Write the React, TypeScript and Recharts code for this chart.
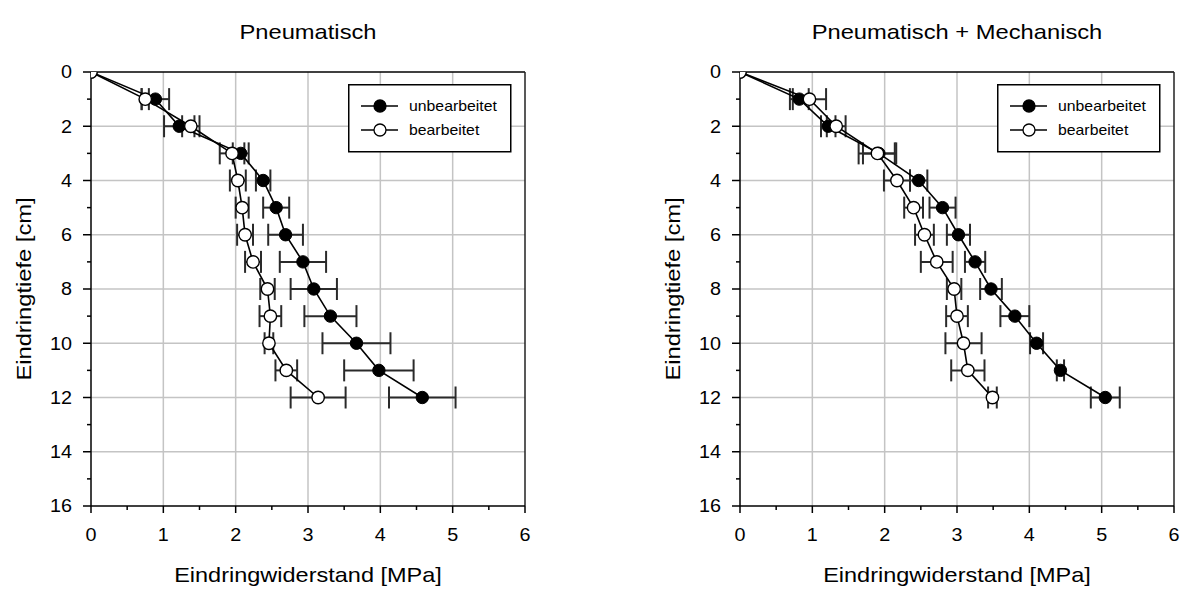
import { ScatterChart, Scatter, XAxis, YAxis, CartesianGrid, ErrorBar, ReferenceLine, Legend } from 'recharts';

// Eindringtiefe [cm]
const depths = [0, 1, 2, 3, 4, 5, 6, 7, 8, 9, 10, 11, 12];

// Pneumatisch
const pneuUnbearbeitet = [0, 0.89, 1.22, 2.07, 2.38, 2.56, 2.69, 2.93, 3.08, 3.31, 3.67, 3.98, 4.58];
const pneuUnbearbeitetErr = [0, 0.19, 0.21, 0.11, 0.1, 0.18, 0.24, 0.32, 0.32, 0.36, 0.47, 0.48, 0.46];
const pneuBearbeitet = [0, 0.75, 1.38, 1.95, 2.03, 2.09, 2.13, 2.24, 2.44, 2.48, 2.46, 2.7, 3.14];
const pneuBearbeitetErr = [0, 0.05, 0.12, 0.17, 0.11, 0.09, 0.11, 0.11, 0.1, 0.15, 0.06, 0.15, 0.38];

// Pneumatisch + Mechanisch
const mechUnbearbeitet = [0, 0.82, 1.22, 1.92, 2.47, 2.8, 3.02, 3.25, 3.47, 3.8, 4.1, 4.43, 5.05];
const mechUnbearbeitetErr = [0, 0.13, 0.1, 0.22, 0.12, 0.18, 0.16, 0.14, 0.15, 0.2, 0.09, 0.05, 0.2];
const mechBearbeitet = [0, 0.96, 1.33, 1.9, 2.17, 2.4, 2.55, 2.72, 2.96, 3.0, 3.09, 3.15, 3.49];
const mechBearbeitetErr = [0, 0.23, 0.13, 0.26, 0.18, 0.13, 0.13, 0.22, 0.1, 0.15, 0.25, 0.23, 0.06];

const xTicks = [0, 0.5, 1, 1.5, 2, 2.5, 3, 3.5, 4, 4.5, 5, 5.5, 6];
const yTicks = [0, 1, 2, 3, 4, 5, 6, 7, 8, 9, 10, 11, 12, 13, 14, 15, 16];
const xGrid = [1, 2, 3, 4, 5];
const yGrid = [2, 4, 6, 8, 10, 12, 14];

const seriesNames = ['unbearbeitet', 'bearbeitet'];
const titles = ['Pneumatisch', 'Pneumatisch + Mechanisch'];
const xLabel = 'Eindringwiderstand [MPa]';
const yLabel = 'Eindringtiefe [cm]';

const FONT = '"Liberation Sans", Arial, sans-serif';
const SX = 1.13;
const Y_TICK_SIZE = 8;
const Y_TICK_MARGIN = 11;
const X_TICK_SIZE = 7;
const X_TICK_MARGIN = 16;

const toRows = (xs: number[], errs: number[]) =>
  depths.map((d, i) => ({ depth: d, value: xs[i], err: errs[i] }));

const YTick = (props: any) => {
  const { x, y, payload } = props;
  const v = payload.value;
  const major = v % 2 === 0;
  const ax = x + Y_TICK_MARGIN + Y_TICK_SIZE;
  return (
    <g>
      <line x1={ax - (major ? 8 : 4)} x2={ax} y1={y} y2={y} stroke="#000" strokeWidth={1.5} />
      {major && (
        <text
          transform={`translate(${x},${y}) scale(${SX},1)`}
          textAnchor="end"
          dy="0.36em"
          fontSize={17.5}
          fontFamily={FONT}
          fill="#000"
        >
          {v}
        </text>
      )}
    </g>
  );
};

const XTick = (props: any) => {
  const { x, y, payload } = props;
  const v = payload.value;
  const major = Number.isInteger(v);
  const ay = y - X_TICK_MARGIN - X_TICK_SIZE;
  return (
    <g>
      <line x1={x} x2={x} y1={ay} y2={ay + (major ? 7 : 4)} stroke="#000" strokeWidth={1.5} />
      {major && (
        <text
          transform={`translate(${x},${y}) scale(${SX},1)`}
          textAnchor="middle"
          dy="0.71em"
          fontSize={17.5}
          fontFamily={FONT}
          fill="#000"
        >
          {v}
        </text>
      )}
    </g>
  );
};

const FilledDot = (props: any) => <circle cx={props.cx} cy={props.cy} r={6.2} fill="#000" stroke="#000" strokeWidth={1} />;
const OpenDot = (props: any) => <circle cx={props.cx} cy={props.cy} r={6.2} fill="#fff" stroke="#000" strokeWidth={1.4} />;

const LegendBox = () => (
  <svg width={164} height={70} style={{ display: 'block' }}>
    <rect x={0.75} y={0.75} width={162} height={67} fill="#fff" stroke="#000" strokeWidth={1.5} />
    {seriesNames.map((name, i) => {
      const cy = 22 + i * 24;
      return (
        <g key={name}>
          <line x1={13} x2={50} y1={cy} y2={cy} stroke="#000" strokeWidth={1.5} />
          <circle cx={32} cy={cy} r={6} fill={i === 0 ? '#000' : '#fff'} stroke="#000" strokeWidth={1.3} />
          <text
            transform={`translate(61,${cy}) scale(${SX},1)`}
            dy="0.36em"
            fontSize={14}
            fontFamily={FONT}
            fill="#000"
          >
            {name}
          </text>
        </g>
      );
    })}
  </svg>
);

function Panel({ left, unb, unbErr, bea, beaErr }: { left: number; unb: number[]; unbErr: number[]; bea: number[]; beaErr: number[] }) {
  return (
    <div style={{ position: 'absolute', left, top: 0 }}>
      <ScatterChart width={533} height={589} margin={{ top: 72, right: 8, bottom: 43, left: 0 }}>
        <CartesianGrid
          horizontalValues={yGrid}
          verticalValues={xGrid}
          stroke="#c4c4c4"
          strokeWidth={1.5}
        />
        <XAxis
          type="number"
          dataKey="value"
          domain={[0, 6]}
          ticks={xTicks}
          interval={0}
          height={40}
          tickSize={X_TICK_SIZE}
          tickMargin={X_TICK_MARGIN}
          tickLine={false}
          tick={<XTick />}
          axisLine={{ stroke: '#000', strokeWidth: 1.5 }}
          allowDataOverflow
        />
        <YAxis
          type="number"
          dataKey="depth"
          domain={[0, 16]}
          reversed
          ticks={yTicks}
          interval={0}
          width={91}
          tickSize={Y_TICK_SIZE}
          tickMargin={Y_TICK_MARGIN}
          tickLine={false}
          tick={<YTick />}
          axisLine={{ stroke: '#000', strokeWidth: 1.5 }}
          allowDataOverflow
        />
        <ReferenceLine y={0} stroke="#000" strokeWidth={1.5} />
        <ReferenceLine x={6} stroke="#222" strokeWidth={1.5} />
        <Scatter
          name={seriesNames[0]}
          data={toRows(unb, unbErr)}
          line={{ stroke: '#000', strokeWidth: 1.6 }}
          lineType="joint"
          shape={<FilledDot />}
          isAnimationActive={false}
        >
          <ErrorBar dataKey="err" direction="x" width={11} stroke="#2a2a2a" strokeWidth={2} isAnimationActive={false} />
        </Scatter>
        <Scatter
          name={seriesNames[1]}
          data={toRows(bea, beaErr)}
          line={{ stroke: '#000', strokeWidth: 1.6 }}
          lineType="joint"
          shape={<OpenDot />}
          isAnimationActive={false}
        >
          <ErrorBar dataKey="err" direction="x" width={11} stroke="#2a2a2a" strokeWidth={2} isAnimationActive={false} />
        </Scatter>
        <Legend
          layout="vertical"
          align="center"
          verticalAlign="middle"
          content={<LegendBox />}
          wrapperStyle={{ left: 348, top: 84, width: 164, height: 70 }}
        />
      </ScatterChart>
    </div>
  );
}

export default function App() {
  const centers = [308, 957];
  const yLabelX = [31, 680];
  return (
    <div style={{ position: 'absolute', left: 0, top: 0, width: 1182, height: 589, background: '#fff', overflow: 'hidden' }}>
      <Panel left={0} unb={pneuUnbearbeitet} unbErr={pneuUnbearbeitetErr} bea={pneuBearbeitet} beaErr={pneuBearbeitetErr} />
      <Panel left={649} unb={mechUnbearbeitet} unbErr={mechUnbearbeitetErr} bea={mechBearbeitet} beaErr={mechBearbeitetErr} />
      <svg width={1182} height={589} style={{ position: 'absolute', left: 0, top: 0, pointerEvents: 'none' }}>
        {centers.map((cx, i) => (
          <g key={i} fontFamily={FONT} fill="#000">
            <text transform={`translate(${cx},39) scale(${SX},1)`} textAnchor="middle" fontSize={21}>
              {titles[i]}
            </text>
            <text transform={`translate(${cx},582) scale(${SX},1)`} textAnchor="middle" fontSize={20.8}>
              {xLabel}
            </text>
            <text transform={`translate(${yLabelX[i]},289) rotate(-90) scale(${SX},1)`} textAnchor="middle" fontSize={21}>
              {yLabel}
            </text>
          </g>
        ))}
      </svg>
    </div>
  );
}
